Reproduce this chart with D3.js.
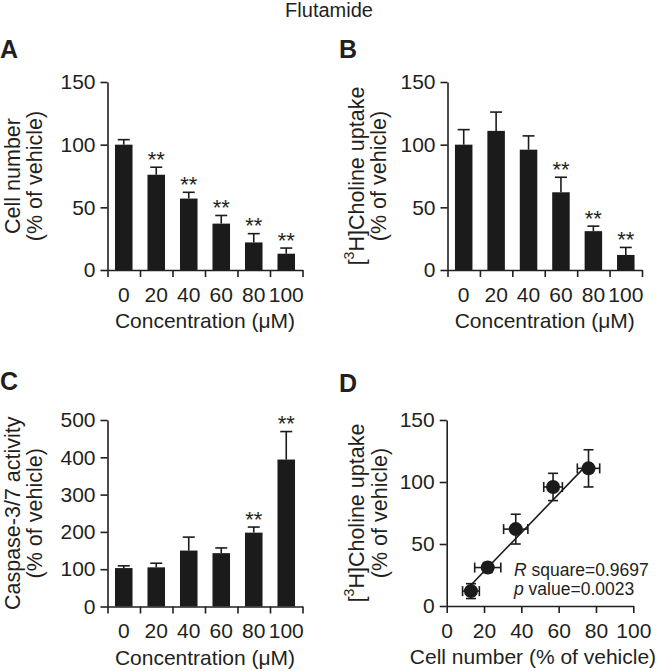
<!DOCTYPE html>
<html>
<head>
<meta charset="utf-8">
<script src="https://cdn.jsdelivr.net/npm/d3@7"></script>
<style>
    body { margin: 0; background: #fff; }
    svg text { font-family: "Liberation Sans", Arial, sans-serif; fill: #231f20; }
</style>
</head>
<body>
<div id="container"></div>
<script>
"use strict";

// data
const concentrations = ["0", "20", "40", "60", "80", "100"];

// A: cell number (% of vehicle)
const cellMean = [100, 76, 57, 37, 22, 13];
const cellErr = [4, 6, 5, 6.5, 7, 4.5];
const cellStars = [false, true, true, true, true, true];

// B: [3H]choline uptake (% of vehicle)
const cholMean = [100, 111, 96, 62, 31, 12];
const cholErr = [12, 15, 11, 12, 4, 6];
const cholStars = [false, false, false, true, true, true];

// C: caspase-3/7 activity (% of vehicle)
const caspMean = [103, 105, 150, 143, 198, 394];
const caspErr = [6, 11, 36, 14, 15, 75];
const caspStars = [false, false, false, false, true, true];

// D: regression of uptake on cell number (20-100 uM points)
const fitSlope = 1.56;
const fitIntercept = -3.3;
const fitText = ["R", " square=0.9697", "p", " value=0.0023"];

const inkColor = "#231f20";
const barColor = "#1b1b1b";

const svg = d3.select("#container")
    .append("svg")
    .attr("width", 658)
    .attr("height", 671);

// title
svg.append("text")
    .attr("x", 329)
    .attr("y", 17)
    .attr("text-anchor", "middle")
    .style("font-size", "20px")
    .text("Flutamide");

// panel letter
function panelLetter(letter, x, y) {
    svg.append("text")
        .attr("x", x)
        .attr("y", y)
        .style("font-size", "25px")
        .style("font-weight", "bold")
        .text(letter);
}

// rotated two-line y label, optional [3H] prefix
function yLabel(lines, x1, x2, yc, tritium) {
    const t1 = svg.append("text")
        .attr("transform", `translate(${x1}, ${yc}) rotate(-90)`)
        .attr("text-anchor", "middle")
        .style("font-size", "21.5px");
    if (tritium) {
        t1.append("tspan").text("[");
        t1.append("tspan").attr("dy", "-0.75em").style("font-size", "14px").text("3");
        t1.append("tspan").attr("dy", "0.48em").text("H]" + lines[0]);
    } else {
        t1.text(lines[0]);
    }
    svg.append("text")
        .attr("transform", `translate(${x2}, ${yc}) rotate(-90)`)
        .attr("text-anchor", "middle")
        .style("font-size", "21.5px")
        .text(lines[1]);
}

function styleAxis(g) {
    g.selectAll("path, line")
        .attr("stroke", inkColor)
        .attr("stroke-width", 1.6);
    g.selectAll("text")
        .style("font-size", "21px")
        .attr("fill", inkColor);
}

// bar chart panel
function barPanel(cfg) {
    const x = d3.scaleBand()
        .domain(concentrations)
        .range([cfg.x0, cfg.x1]);
    const xEdge = d3.scaleLinear()
        .domain([0, concentrations.length])
        .range([cfg.x0, cfg.x1]);
    const y = d3.scaleLinear()
        .domain([0, cfg.yMax])
        .range([cfg.yBottom, cfg.yTop]);

    const barW = x.bandwidth() * 0.54;
    const capW = 12;

    const data = concentrations.map((c, i) => ({
        c: c,
        mean: cfg.mean[i],
        err: cfg.err[i],
        star: cfg.stars[i],
    }));

    // bars
    svg.append("g")
        .selectAll("rect")
        .data(data)
        .join("rect")
        .attr("x", (d) => x(d.c) + (x.bandwidth() - barW) / 2)
        .attr("y", (d) => y(d.mean))
        .attr("width", barW)
        .attr("height", (d) => y(0) - y(d.mean))
        .attr("fill", barColor);

    // upper error bars
    const eb = svg.append("g")
        .attr("stroke", barColor)
        .attr("stroke-width", 1.6);
    eb.selectAll("line.v")
        .data(data)
        .join("line")
        .attr("class", "v")
        .attr("x1", (d) => x(d.c) + x.bandwidth() / 2)
        .attr("x2", (d) => x(d.c) + x.bandwidth() / 2)
        .attr("y1", (d) => y(d.mean))
        .attr("y2", (d) => y(d.mean + d.err));
    eb.selectAll("line.cap")
        .data(data)
        .join("line")
        .attr("class", "cap")
        .attr("x1", (d) => x(d.c) + x.bandwidth() / 2 - capW / 2)
        .attr("x2", (d) => x(d.c) + x.bandwidth() / 2 + capW / 2)
        .attr("y1", (d) => y(d.mean + d.err))
        .attr("y2", (d) => y(d.mean + d.err));

    // significance stars
    svg.append("g")
        .selectAll("text")
        .data(data.filter((d) => d.star))
        .join("text")
        .attr("x", (d) => x(d.c) + x.bandwidth() / 2)
        .attr("y", (d) => y(d.mean + d.err) - 0.5)
        .attr("text-anchor", "middle")
        .style("font-size", "22px")
        .text("**");

    // y axis
    svg.append("g")
        .attr("transform", `translate(${cfg.x0}, 0)`)
        .call(d3.axisLeft(y).tickValues(cfg.yTicks).tickSize(7).tickSizeOuter(0).tickPadding(5))
        .call(styleAxis);

    // x axis: ticks between bars
    svg.append("g")
        .attr("transform", `translate(0, ${cfg.yBottom})`)
        .call(d3.axisBottom(xEdge).ticks(concentrations.length).tickSize(7).tickSizeOuter(0).tickFormat(""))
        .call(styleAxis);

    // x labels under bars
    svg.append("g")
        .attr("transform", `translate(0, ${cfg.yBottom})`)
        .call(d3.axisBottom(x).tickSize(0).tickPadding(17))
        .call(styleAxis)
        .call((g) => g.select(".domain").remove());

    // x title
    svg.append("text")
        .attr("x", (cfg.x0 + cfg.x1) / 2)
        .attr("y", cfg.yBottom + 58)
        .attr("text-anchor", "middle")
        .style("font-size", "21px")
        .text("Concentration (\u03bcM)");

    yLabel(cfg.yLabel, cfg.lx1, cfg.lx2, (cfg.yTop + cfg.yBottom) / 2, cfg.tritium);
    panelLetter(cfg.letter, cfg.letterX, cfg.letterY);
}

barPanel({
    letter: "A", letterX: 0, letterY: 58,
    x0: 107.5, x1: 302.5, yTop: 82, yBottom: 270,
    yMax: 150, yTicks: [0, 50, 100, 150],
    mean: cellMean, err: cellErr, stars: cellStars,
    yLabel: ["Cell number", "(% of vehicle)"], lx1: 20, lx2: 41.5, tritium: false,
});

barPanel({
    letter: "B", letterX: 339, letterY: 58,
    x0: 447.5, x1: 642, yTop: 82, yBottom: 270,
    yMax: 150, yTicks: [0, 50, 100, 150],
    mean: cholMean, err: cholErr, stars: cholStars,
    yLabel: ["Choline uptake", "(% of vehicle)"], lx1: 364, lx2: 386, tritium: true,
});

barPanel({
    letter: "C", letterX: 0, letterY: 390,
    x0: 107.5, x1: 302.5, yTop: 420, yBottom: 606.5,
    yMax: 500, yTicks: [0, 100, 200, 300, 400, 500],
    mean: caspMean, err: caspErr, stars: caspStars,
    yLabel: ["Caspase-3/7 activity", "(% of vehicle)"], lx1: 20, lx2: 41.5, tritium: false,
});

// D: scatter with x and y error bars
function scatterPanel() {
    const x0 = 446.7, x1 = 633.3, yTop = 420, yBottom = 606;
    const x = d3.scaleLinear().domain([0, 100]).range([x0, x1]);
    const y = d3.scaleLinear().domain([0, 150]).range([yBottom, yTop]);

    // points for 20..100 uM
    const pts = concentrations.slice(1).map((c, j) => ({
        x: cellMean[j + 1],
        xe: cellErr[j + 1],
        y: cholMean[j + 1],
        ye: cholErr[j + 1],
    }));

    const xs = pts.map((d) => d.x);
    const xMin = d3.min(xs), xMax = d3.max(xs);

    // fitted line
    svg.append("line")
        .attr("x1", x(xMin))
        .attr("y1", y(fitSlope * xMin + fitIntercept))
        .attr("x2", x(xMax))
        .attr("y2", y(fitSlope * xMax + fitIntercept))
        .attr("stroke", barColor)
        .attr("stroke-width", 1.6);

    const eb = svg.append("g")
        .attr("stroke", barColor)
        .attr("stroke-width", 1.6);
    const cap = 5;
    pts.forEach((d) => {
        // horizontal error
        eb.append("line").attr("x1", x(d.x - d.xe)).attr("x2", x(d.x + d.xe)).attr("y1", y(d.y)).attr("y2", y(d.y));
        eb.append("line").attr("x1", x(d.x - d.xe)).attr("x2", x(d.x - d.xe)).attr("y1", y(d.y) - cap).attr("y2", y(d.y) + cap);
        eb.append("line").attr("x1", x(d.x + d.xe)).attr("x2", x(d.x + d.xe)).attr("y1", y(d.y) - cap).attr("y2", y(d.y) + cap);
        // vertical error
        eb.append("line").attr("x1", x(d.x)).attr("x2", x(d.x)).attr("y1", y(d.y - d.ye)).attr("y2", y(d.y + d.ye));
        eb.append("line").attr("x1", x(d.x) - cap).attr("x2", x(d.x) + cap).attr("y1", y(d.y - d.ye)).attr("y2", y(d.y - d.ye));
        eb.append("line").attr("x1", x(d.x) - cap).attr("x2", x(d.x) + cap).attr("y1", y(d.y + d.ye)).attr("y2", y(d.y + d.ye));
    });

    svg.append("g")
        .selectAll("circle")
        .data(pts)
        .join("circle")
        .attr("cx", (d) => x(d.x))
        .attr("cy", (d) => y(d.y))
        .attr("r", 7)
        .attr("fill", barColor);

    svg.append("g")
        .attr("transform", `translate(${x0}, 0)`)
        .call(d3.axisLeft(y).tickValues([0, 50, 100, 150]).tickSize(7).tickSizeOuter(0).tickPadding(5))
        .call(styleAxis);

    svg.append("g")
        .attr("transform", `translate(0, ${yBottom})`)
        .call(d3.axisBottom(x).tickValues([0, 20, 40, 60, 80, 100]).tickSize(7).tickSizeOuter(0).tickPadding(10))
        .call(styleAxis);

    // stats text
    const s1 = svg.append("text").attr("x", 514).attr("y", 575.5).style("font-size", "17.5px");
    s1.append("tspan").style("font-style", "italic").text(fitText[0]);
    s1.append("tspan").text(fitText[1]);
    const s2 = svg.append("text").attr("x", 514).attr("y", 595).style("font-size", "17.5px");
    s2.append("tspan").style("font-style", "italic").text(fitText[2]);
    s2.append("tspan").text(fitText[3]);

    svg.append("text")
        .attr("x", 533)
        .attr("y", yBottom + 58)
        .attr("text-anchor", "middle")
        .style("font-size", "21px")
        .text("Cell number (% of vehicle)");

    yLabel(["Choline uptake", "(% of vehicle)"], 364, 387, (yTop + yBottom) / 2, true);
    panelLetter("D", 339, 391.5);
}

scatterPanel();
</script>
</body>
</html>
